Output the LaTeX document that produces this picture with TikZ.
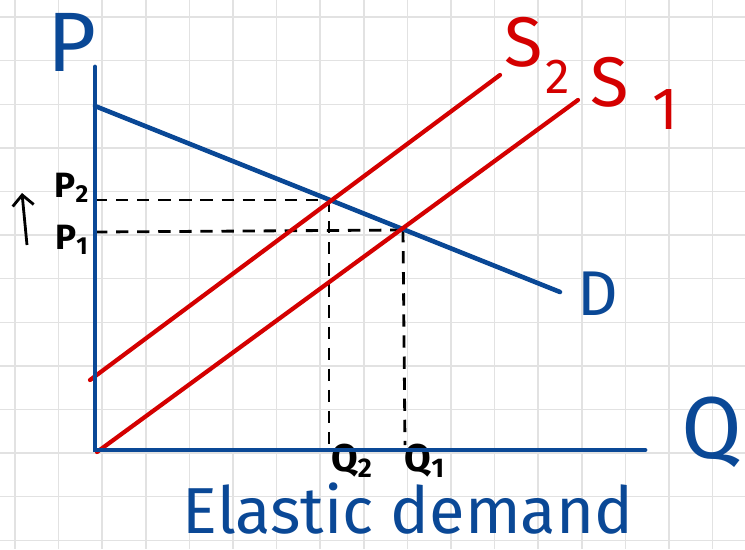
\documentclass[tikz,border=0pt]{standalone}
\usepackage{fontspec}
\setmainfont{Fira Sans}
\usetikzlibrary{arrows.meta,positioning}
\definecolor{penblue}{RGB}{10,72,150}
\definecolor{penred}{RGB}{212,0,0}
\definecolor{gridgray}{RGB}{226,226,226}

\tikzset{
  gridline/.style={gridgray, line width=0.8pt},
  axisline/.style={penblue, line width=2.8pt},
  demandline/.style={penblue, line width=2.6pt},
  supplyline/.style={penred, line width=2.4pt},
  guideline/.style={black, line width=1.6pt, dash pattern=on 7pt off 5pt},
  bluelabel/.style={text=penblue, font=\fontsize{40}{40}\selectfont, inner sep=0pt},
  redlabel/.style={text=penred, font=\fontsize{40}{40}\selectfont, inner sep=0pt},
  blacklabel/.style={text=black, font=\bfseries\fontsize{20}{20}\selectfont, inner sep=0pt}
}

\begin{document}
\begin{tikzpicture}[x=0.02cm, y=-0.02cm, >=Stealth]
  \useasboundingbox (0,0) rectangle (745,549);
  \fill[white] (0,0) rectangle (745,549);

  % Grid paper
  \foreach \i in {0,...,16}
    \draw[gridline] ({15+43.6*\i},0) -- ({15+43.6*\i},549);
  \foreach \j in {0,...,12}
    \draw[gridline] (0,{17+43.6*\j}) -- (745,{17+43.6*\j});

  % Define coordinates
  \coordinate (O) at (95,450);
  \coordinate (Ptop) at (95,67);
  \coordinate (Qend) at (645,450);
  \coordinate (D0) at (95,106);
  \coordinate (D1) at (560,292);
  \coordinate (S1a) at (97,452);
  \coordinate (S1b) at (578,100);
  \coordinate (S2a) at (90,380);
  \coordinate (S2b) at (500,75);
  \coordinate (E2) at (329,200);
  \coordinate (E1) at (403,230);
  \coordinate (P2) at (95,200);
  \coordinate (P1) at (95,232);
  \coordinate (Q2) at (329,448);
  \coordinate (Q1) at (405,445);
  \coordinate (ArrA) at (27,245);
  \coordinate (ArrB) at (22,193);

  % Labels
  \node[bluelabel, font=\fontsize{48}{48}\selectfont] (Plab) at (72,42) {P};
  \node[bluelabel, font=\fontsize{50}{50}\selectfont] (Qlab) at (712,432) {Q};
  \node[bluelabel, font=\fontsize{36}{36}\selectfont] (Dlab) at (598,294) {D};
  \node[redlabel] (S2lab) at (524,42) {S};
  \node[redlabel, font=\fontsize{28}{28}\selectfont] (S2sub) at (558,77) {2};
  \node[redlabel] (S1lab) at (610,82) {S};
  \node[redlabel, font=\fontsize{34}{34}\selectfont] (S1sub) at (665,110) {1};
  \node[blacklabel] (P2lab) at (72,188) {P$_\mathbf{2}$};
  \node[blacklabel] (P1lab) at (72,240) {P$_\mathbf{1}$};
  \node[blacklabel, font=\bfseries\fontsize{22}{22}\selectfont] (Q2lab) at (352,461) {Q$_\mathbf{2}$};
  \node[blacklabel, font=\bfseries\fontsize{22}{22}\selectfont] (Q1lab) at (425,461) {Q$_\mathbf{1}$};
  \node[bluelabel, font=\fontsize{37}{37}\selectfont] (title) at (408,509) {Elastic demand};

  % Draw lines
  \draw[guideline] (P2) -- (E2);
  \draw[guideline] (P1) -- (E1);
  \draw[guideline] (E2) -- (Q2);
  \draw[guideline] (E1) -- (Q1);
  \draw[demandline, line cap=round] (D0) -- (D1);
  \draw[supplyline, line cap=round] (S2a) -- (S2b);
  \draw[supplyline, line cap=round] (S1a) -- (S1b);
  \draw[axisline, line cap=round] (Ptop) -- (O) -- (Qend);
  \draw[black, line width=1.6pt, -{Straight Barb[length=6pt]}] (ArrA) -- (ArrB);
\end{tikzpicture}
\end{document}
